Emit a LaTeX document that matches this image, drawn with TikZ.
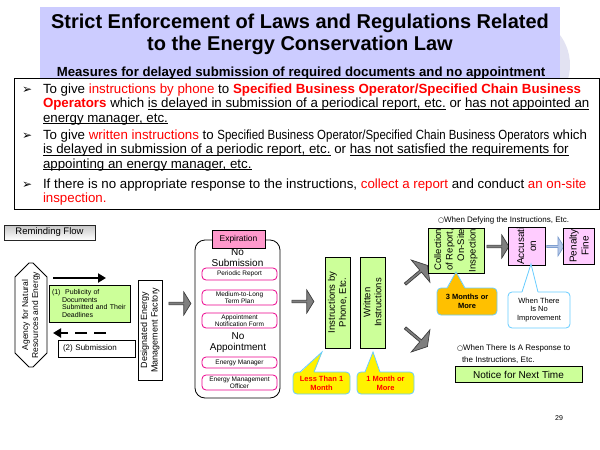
\documentclass[tikz,border=0pt]{standalone}
\usepackage{fontspec}
\usepackage{graphicx}
\setmainfont{Liberation Sans}
\newfontfamily\dejavu{DejaVu Sans}
\usetikzlibrary{shapes.misc,shapes.arrows,arrows.meta}
\definecolor{lav}{HTML}{CCCCFF}
\definecolor{circ}{HTML}{E2E2F2}
\definecolor{lgreen}{HTML}{CCFF99}
\definecolor{expink}{HTML}{FF99CC}
\definecolor{lpink}{HTML}{FFCCFF}
\definecolor{cblue}{HTML}{66CCFF}
\definecolor{gold}{HTML}{FFC000}
\definecolor{garrfill}{HTML}{7F7F7F}
\definecolor{garrdraw}{HTML}{3F3F3F}
\definecolor{barrfill}{HTML}{B4C7E7}
\definecolor{barrdraw}{HTML}{7F9FD0}
\newcommand{\undl}[1]{\underline{\smash{#1}}}
\newcommand{\fs}[2]{\fontsize{#1}{#2}\selectfont}
\begin{document}
\begin{tikzpicture}[x=1pt,y=-1pt,
  every node/.style={inner sep=0pt,outer sep=0pt},
  bl/.style={anchor=base west,font=\fs{13.3}{15}},
  bul/.style={anchor=base west,font=\dejavu\bfseries\fs{12}{13}},
  gbox/.style={draw=black,fill=lgreen,line width=0.8pt},
  pbox/.style={draw=magenta,fill=white,rounded corners=4pt,line width=0.8pt,minimum width=75pt,align=center,font=\fs{6.5}{7.3}},
  garrow/.style={single arrow,draw=garrdraw,fill=garrfill,line width=0.7pt,minimum height=22pt,minimum width=23pt,single arrow head extend=3pt,single arrow tip angle=117},
  darrow/.style={garrow,minimum height=29pt,minimum width=29pt,single arrow head extend=3.5pt},
  cbox/.style={draw=cblue,line width=0.8pt,rounded corners=4pt,align=center,font=\fs{7.5}{9}},
  thinbox/.style={draw=black,line width=0.8pt}]
\useasboundingbox (0,0) rectangle (600,450);
% decorative background
\fill[circ] (520,65) circle (50);
\fill[lav] (40,7) rectangle (560,80);
\node[anchor=base,font=\bfseries\fs{20}{24}] (t1) at (300,28) {Strict Enforcement of Laws and Regulations Related};
\node[anchor=base,font=\bfseries\fs{20}{24}] (t2) at (300,50) {to the Energy Conservation Law};
\node[anchor=base,font=\bfseries\fs{13.2}{15}] (t3) at (301,76) {Measures for delayed submission of required documents and no appointment};
% bullet box
\node[draw=black,fill=white,line width=0.8pt,minimum width=585pt,minimum height=131pt,anchor=north west] (bbox) at (14,78) {};
\node[bul] (m1) at (22,93) {➢};
\node[bl] (l11) at (43,93) {To give \textcolor{red}{instructions by phone} to \textcolor{red}{\bfseries Specified Business Operator/Specified Chain Business}};
\node[bl] (l12) at (43,107.5) {\textcolor{red}{\bfseries Operators} which \undl{is delayed in submission of a periodical report, etc.} or \undl{has not appointed an}};
\node[bl] (l13) at (43,122) {\undl{energy manager, etc.}};
\node[bul] (m2) at (22,139) {➢};
\node[bl] (l21) at (43,139) {To give \textcolor{red}{written instructions} to \scalebox{0.86}[1]{Specified Business Operator/Specified Chain Business Operators} which};
\node[bl] (l22) at (43,153.5) {\undl{is delayed in submission of a periodic report, etc.} or \undl{has not satisfied the requirements for}};
\node[bl] (l23) at (43,168) {\undl{appointing an energy manager, etc.}};
\node[bul] (m3) at (22,188) {➢};
\node[bl] (l31) at (43,188) {If there is no appropriate response to the instructions, \textcolor{red}{collect a report} and conduct \textcolor{red}{an on-site}};
\node[bl] (l32) at (43,202.5) {\textcolor{red}{inspection.}};
% reminding flow
\node[draw=black!85,line width=0.8pt,top color=gray!45,bottom color=white,minimum width=91pt,minimum height=15pt,anchor=north west,font=\fs{9.5}{11}] (rf) at (4,225) {Reminding Flow};
\node[draw=black,line width=0.8pt,chamfered rectangle,chamfered rectangle sep=7pt,minimum width=104pt,minimum height=32pt,rotate=90,align=center,font=\fs{8.5}{10}] (agency) at (31,315) {Agency for Natural\\Resources and Energy};
\coordinate (s1) at (53,278);
\coordinate (e1) at (106,278);
\draw[line width=2.6pt,-{Triangle[length=8pt,width=9pt]}] (s1) -- (e1);
\node[gbox,text width=75pt,inner xsep=3pt,minimum height=37pt,align=left,anchor=north west,font=\fs{7}{7.8}] (pub) at (49,285) {(1)~~Publicity of\\\hspace*{10pt}Documents\\\hspace*{10pt}Submitted and Their\\\hspace*{10pt}Deadlines};
\coordinate (s2) at (106,333);
\coordinate (e2) at (53,333);
\draw[line width=2.6pt,dash pattern=on 12pt off 7pt,-{Triangle[length=8pt,width=9pt]}] (s2) -- (e2);
\node[thinbox,text width=67pt,inner xsep=5pt,minimum height=17pt,align=left,anchor=north west,font=\fs{8}{9}] (sub) at (58,340) {(2) Submission};
\node[thinbox,minimum width=100pt,minimum height=24pt,rotate=90,align=center,font=\fs{9}{10.5}] (dem) at (150,330) {Designated Energy\\Management Factory};
\node[garrow] (ga1) at (179.5,303.5) {};
% container
\node[draw=black,line width=0.8pt,rounded corners=10pt,minimum width=85pt,minimum height=158pt,anchor=north west] (cont) at (195,240) {};
\node[thinbox,fill=expink,minimum width=53pt,minimum height=18pt,font=\fs{8.5}{10}] (exp) at (238.5,239) {Expiration};
\node[align=center,font=\fs{10}{11}] (nosub) at (237.5,258) {No\\Submission};
\node[pbox,minimum height=12pt] (pr) at (239.5,274) {Periodic Report};
\node[pbox,minimum height=15pt] (mt) at (239.5,297.5) {Medium-to-Long\\Term Plan};
\node[pbox,minimum height=15pt] (an) at (239.5,320.5) {Appointment\\Notification Form};
\node[align=center,font=\fs{10}{11}] (noapp) at (238,342.5) {No\\Appointment};
\node[pbox,minimum height=11pt] (em) at (239.5,362.5) {Energy Manager};
\node[pbox,minimum height=15pt] (emo) at (239.5,382.5) {Energy Management\\Officer};
\node[garrow] (ga2) at (302.5,301.5) {};
% instructions
\node[gbox,rotate=90,minimum width=91pt,minimum height=25pt,align=center,font=\fs{9.5}{11}] (ip) at (337.5,302.5) {Instructions by\\Phone, Etc.};
\node[gbox,rotate=90,minimum width=91pt,minimum height=25pt,align=center,font=\fs{9.5}{11}] (wi) at (372.5,302.5) {Written\\Instructions};
% callouts yellow
\node[cbox,fill=yellow,minimum width=57pt,minimum height=22pt,text=red,font=\bfseries\fs{7.5}{9}] (lt) at (321.5,383) {Less Than 1\\Month};
\fill[yellow] (300,373) -- (322,352) -- (314,373) -- cycle;
\draw[cblue,line width=0.8pt] (300,372) -- (322,352) -- (314,372);
\node[cbox,fill=yellow,minimum width=57pt,minimum height=22pt,text=red,font=\bfseries\fs{7.5}{9}] (mm) at (385.5,383) {1 Month or\\More};
\fill[yellow] (365,373) -- (373,352) -- (380,373) -- cycle;
\draw[cblue,line width=0.8pt] (365,372) -- (373,352) -- (380,372);
% diagonal arrows
\node[darrow,rotate=40] (da1) at (416,275) {};
\node[darrow,rotate=-40] (da2) at (416,337) {};
% right part
\node[anchor=west,font=\fs{8}{10}] (defy) at (438,220) {{\dejavu\fs{7}{10}○}When Defying the Instructions, Etc.};
\node[gbox,rotate=90,minimum width=45pt,minimum height=56pt,align=right,font=\fs{9.5}{11.5}] (col) at (456,250.5) {Collection\\of Report,\\On-Site\\Inspection};
\node[garrow] (ga3) at (497.5,246.5) {};
\node[thinbox,fill=lpink,rotate=90,minimum width=36pt,minimum height=37pt,align=center,font=\fs{10}{12}] (acc) at (526.5,246) {Accusati\\on};
\node[single arrow,draw=barrdraw,fill=barrfill,line width=0.7pt,minimum height=17pt,minimum width=19pt,single arrow head extend=3pt,single arrow tip angle=117] (ba) at (555,246.5) {};
\node[thinbox,fill=lpink,rotate=90,minimum width=36pt,minimum height=31pt,align=center,font=\fs{10}{12}] (pen) at (579,246) {Penalty\\Fine};
\node[cbox,fill=gold,minimum width=60pt,minimum height=27pt,font=\bfseries\fs{7.5}{9}] (tm) at (467,301.5) {3 Months or\\More};
\fill[gold] (447,289) -- (456,272) -- (465,289) -- cycle;
\draw[cblue,line width=0.8pt] (447,288) -- (456,272) -- (465,288);
\node[cbox,fill=white,minimum width=62pt,minimum height=36pt,font=\fs{7.5}{8.7}] (wt) at (539,310) {When There\\Is No\\Improvement};
\fill[white] (522,293) -- (531,264) -- (538,293) -- cycle;
\draw[cblue,line width=0.8pt] (522,292) -- (531,264) -- (538,292);
\node[anchor=north west,align=left,font=\fs{8}{12}] (resp) at (457,345) {{\dejavu\fs{7}{12}○}When There Is A Response to\\\hspace*{5pt}the Instructions, Etc.};
\node[gbox,minimum width=127pt,minimum height=16pt,font=\fs{10}{12}] (nnt) at (518.5,374.5) {Notice for Next Time};
\node[font=\fs{7}{9}] (pg) at (559,418) {29};
\end{tikzpicture}
\end{document}
